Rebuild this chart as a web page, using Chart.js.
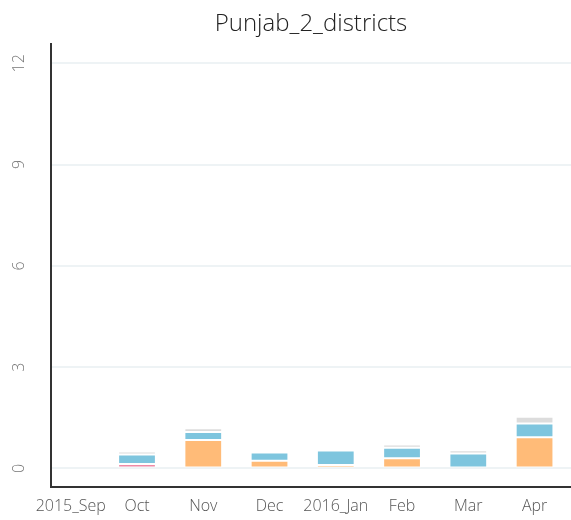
<!DOCTYPE html>
<html>
<head>
<meta charset="utf-8">
<script src="https://cdn.jsdelivr.net/npm/chart.js@4/dist/chart.umd.min.js"></script>
<style>
  html, body { margin: 0; padding: 0; background: #fff; }
  #wrap { width: 571px; height: 520px; position: relative; }
</style>
</head>
<body>
<div id="wrap"><canvas id="chart"></canvas></div>
<script>
// months on the x axis
const categories = ['2015_Sep', 'Oct', 'Nov', 'Dec', '2016_Jan', 'Feb', 'Mar', 'Apr'];
const yTickValues = [0, 3, 6, 9, 12];

// stacked series, bottom to top
const pinkValues   = [0, 0.13, 0,    0,    0,    0,    0,    0];
const orangeValues = [0, 0,    0.84, 0.23, 0.1,  0.30, 0,    0.92];
const blueValues   = [0, 0.28, 0.24, 0.24, 0.43, 0.31, 0.44, 0.41];
const greyValues   = [0, 0.09, 0.11, 0,    0,    0.10, 0.10, 0.20];

const chartTitle = 'Punjab_2_districts';
const FONT = "'Open Sans', 'DejaVu Sans', sans-serif";

function toPoints(values) {
  return values.map((v, i) => ({ x: i, y: v }));
}

function makeSeries(label, values, color) {
  return {
    label,
    data: toPoints(values),
    backgroundColor: color,
    borderColor: 'rgba(255,255,255,0.85)',
    borderWidth: 1,
    borderSkipped: false,
    barPercentage: 0.57,
    categoryPercentage: 1
  };
}

// title is centred over the plot area, not the canvas
const plotTitle = {
  id: 'plotTitle',
  afterDraw(chart) {
    const { ctx, chartArea } = chart;
    ctx.save();
    ctx.font = "300 24px " + FONT;
    ctx.fillStyle = '#222';
    ctx.textAlign = 'center';
    ctx.textBaseline = 'middle';
    ctx.fillText(chartTitle, (chartArea.left + chartArea.right) / 2, 24);
    ctx.restore();
  }
};

new Chart(document.getElementById('chart'), {
  type: 'bar',
  data: {
    datasets: [
      makeSeries('pink', pinkValues, '#ee8aa6'),
      makeSeries('orange', orangeValues, '#ffbb78'),
      makeSeries('blue', blueValues, '#7ec5de'),
      makeSeries('grey', greyValues, '#dcdcdc')
    ]
  },
  options: {
    responsive: true,
    maintainAspectRatio: false,
    animation: false,
    layout: { padding: { top: 44, right: 0, left: 0, bottom: 0 } },
    plugins: {
      legend: { display: false },
      title: { display: false },
      tooltip: { enabled: false }
    },
    scales: {
      x: {
        type: 'linear',
        stacked: true,
        offset: false,
        min: -0.298,
        max: 7.55,
        afterBuildTicks: axis => { axis.ticks = categories.map((_, i) => ({ value: i })); },
        afterFit: axis => { axis.height = 33; },
        grid: { display: false, drawTicks: false },
        border: { display: true, color: '#333', width: 2 },
        ticks: {
          autoSkip: false,
          maxRotation: 0,
          padding: 10,
          color: '#555',
          font: { family: FONT, size: 16, weight: 300 },
          callback: v => categories[v]
        }
      },
      y: {
        stacked: true,
        min: -0.55,
        max: 12.57,
        afterBuildTicks: axis => { axis.ticks = yTickValues.map(v => ({ value: v })); },
        afterFit: axis => { axis.width = 51; },
        grid: { color: '#eef3f5', lineWidth: 2, drawTicks: false },
        border: { display: true, color: '#333', width: 2 },
        ticks: {
          minRotation: 90,
          maxRotation: 90,
          crossAlign: 'center',
          padding: 22,
          color: '#777',
          font: { family: FONT, size: 16, weight: 300 }
        }
      }
    }
  },
  plugins: [plotTitle]
});
</script>
</body>
</html>
